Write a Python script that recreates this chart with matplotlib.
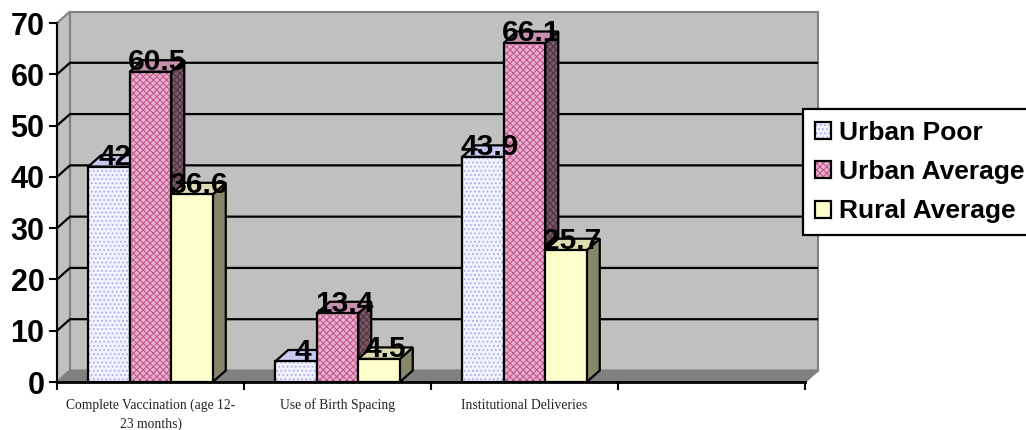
import numpy as np
import matplotlib.pyplot as plt
from matplotlib.patches import Polygon, Patch

categories = ["Complete Vaccination (age 12-\n23 months)", "Use of Birth Spacing",
              "Institutional Deliveries"]
series = ["Urban Poor", "Urban Average", "Rural Average"]
urban_poor = [42, 4, 43.9]
urban_average = [60.5, 13.4, 66.1]
rural_average = [36.6, 4.5, 25.7]
y_ticks = [0, 10, 20, 30, 40, 50, 60, 70]

# front face, top face, side face, hatch, hatch colour
styles = [
    dict(front="#f2f2ff", top="#c8c8f0", side="#8888b0", hatch="....", hc="#a4a4f0"),
    dict(front="#e6b0cc", top="#c890b0", side="#7a5868", hatch="xxxxx", hc="#c2508a"),
    dict(front="#ffffcc", top="#dcdcb2", side="#86866a", hatch=None, hc=None),
]

plt.rcParams['hatch.linewidth'] = 0.7

W, H = 1026, 430
fig = plt.figure(figsize=(W / 100, H / 100), dpi=100)
ax = fig.add_axes([57 / W, (H - 382) / H, (805 - 57) / W, (382 - 23) / H])
n_slots = len(categories) + 1
ymax = y_ticks[-1]
ax.set_xlim(0, n_slots)
ax.set_ylim(0, ymax)
ax.patch.set_visible(False)

# depth of the 3d box: pixels -> data units
ddx = 13 / ((805 - 57) / n_slots)
ddy = 11.5 / ((382 - 23) / ymax)

# walls and floor
wall = dict(clip_on=False, zorder=0.5, lw=1.5, edgecolor="#808080")
ax.add_patch(Polygon([(ddx, ddy), (n_slots + ddx, ddy), (n_slots + ddx, ymax + ddy),
                      (ddx, ymax + ddy)], facecolor="#c0c0c0", **wall))
ax.add_patch(Polygon([(0, 0), (ddx, ddy), (ddx, ymax + ddy), (0, ymax)],
                     facecolor="#c0c0c0", **wall))
ax.add_patch(Polygon([(0, 0), (n_slots, 0), (n_slots + ddx, ddy), (ddx, ddy)],
                     facecolor="#808080", **wall))
for v in y_ticks[1:-1]:
    ax.plot([0, ddx, n_slots + ddx], [v, v + ddy, v + ddy], color="black", lw=1.6,
            clip_on=False, zorder=0.6, solid_capstyle="butt")

# bars
bw = 0.222
x = np.arange(len(categories)) + 0.5
values = [urban_poor, urban_average, rural_average]
for k, vals in enumerate(values):
    st = styles[k]
    pos = x + (k - 1) * bw
    zs = 3 + 2 * k
    zf = zs + 1
    for p, h in zip(pos, vals):
        l, r = p - bw / 2, p + bw / 2
        side = [(r, 0), (r + ddx, ddy), (r + ddx, h + ddy), (r, h)]
        top = [(l, h), (r, h), (r + ddx, h + ddy), (l + ddx, h + ddy)]
        ax.add_patch(Polygon(side, facecolor=st["side"], edgecolor="none", zorder=zs))
        if st["hatch"]:
            ax.add_patch(Polygon(side, facecolor="none", edgecolor="#4a3040",
                                 hatch=st["hatch"], lw=0, zorder=zs))
        ax.add_patch(Polygon(side, facecolor="none", edgecolor="black", lw=1.6, zorder=zs))
        ax.add_patch(Polygon(top, facecolor=st["top"], edgecolor="black", lw=1.6, zorder=zs))
    ax.bar(pos, vals, bw, color=st["front"], edgecolor="none", zorder=zf)
    if st["hatch"]:
        ax.bar(pos, vals, bw, facecolor="none", edgecolor=st["hc"], hatch=st["hatch"],
               lw=0, zorder=zf)
    ax.bar(pos, vals, bw, facecolor="none", edgecolor="black", lw=1.6, zorder=zf)
    for p, h in zip(pos, vals):
        ax.annotate(f"{h:g}", (p, h), xytext=(4.7, 1.2), textcoords="offset points",
                    ha="center", va="baseline", fontsize=21.5, fontweight="bold",
                    family="Liberation Sans", zorder=20)

# axes
for s in ["top", "right"]:
    ax.spines[s].set_visible(False)
ax.spines["left"].set_linewidth(1.5)
ax.spines["bottom"].set_linewidth(2)
ax.set_yticks(y_ticks)
ax.set_yticklabels([str(t) for t in y_ticks], fontsize=22, fontweight="bold",
                   family="Liberation Sans")
ax.tick_params(axis="y", length=6, width=1.5, pad=3)
ax.set_xticks(range(n_slots + 1))
ax.set_xticklabels([])
ax.tick_params(axis="x", which="major", length=5.5, width=1.5)
ax.set_xticks(x, categories, minor=True)
ax.tick_params(axis="x", which="minor", length=0, pad=12)
for t in ax.get_xticklabels(minor=True):
    t.set_family("Liberation Serif")
    t.set_fontsize(9.8)
    t.set_color("#222222")
    t.set_linespacing(1.5)

# legend
handles = []
for st in styles:
    parts = [Patch(facecolor=st["front"], edgecolor="none")]
    if st["hatch"]:
        parts.append(Patch(facecolor="none", edgecolor=st["hc"], hatch=st["hatch"], lw=0))
    parts.append(Patch(facecolor="none", edgecolor="black", lw=1.6))
    handles.append(tuple(parts))
leg = fig.legend(handles, series, loc="upper left", bbox_to_anchor=(803 / W, 1 - 109 / H),
                 prop=dict(family="Liberation Sans", weight="bold", size=19),
                 frameon=True, fancybox=False, edgecolor="black", framealpha=1,
                 borderpad=0.45, handlelength=0.62, handleheight=0.62,
                 handletextpad=0.3, labelspacing=0.58, borderaxespad=0)
leg.get_frame().set_linewidth(1.6)

fig.savefig("out.png", dpi=100)
